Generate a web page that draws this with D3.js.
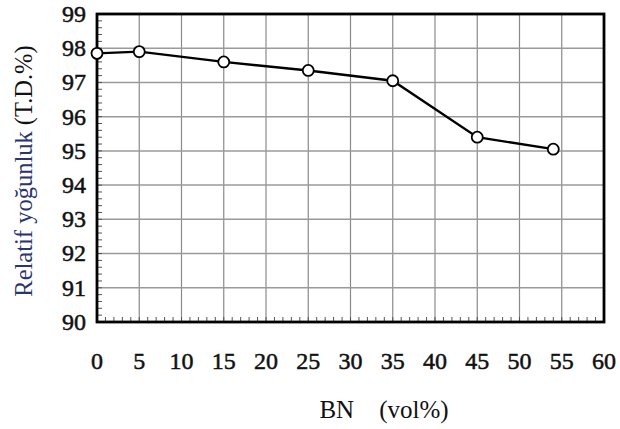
<!DOCTYPE html>
<html><head><meta charset="utf-8">
<script src="https://cdn.jsdelivr.net/npm/d3@7"></script>
<style>body{margin:0;background:#fff}svg{display:block}text{font-family:"Liberation Serif","Times New Roman",serif}</style>
</head><body>
<svg id="c" width="620" height="429"></svg>
<script>
const bnVol = [0, 5, 15, 25, 35, 45, 54];
const density = [97.85, 97.9, 97.6, 97.35, 97.05, 95.4, 95.05];
const xTicks = [0,5,10,15,20,25,30,35,40,45,50,55,60];
const yTicks = [90,91,92,93,94,95,96,97,98,99];

const svg = d3.select("#c");
const L=97, R=604, T=14, B=322;
const x = d3.scaleLinear().domain([0,60]).range([L,R]);
const y = d3.scaleLinear().domain([90,99]).range([B,T]);

// grid
svg.append("g").selectAll("line").data(xTicks.slice(1,-1)).join("line")
  .attr("x1",d=>x(d)).attr("x2",d=>x(d)).attr("y1",T).attr("y2",B)
  .attr("stroke","#8a8a8a").attr("stroke-width",1.2);
svg.append("g").selectAll("line").data(yTicks.slice(1,-1)).join("line")
  .attr("y1",d=>y(d)).attr("y2",d=>y(d)).attr("x1",L).attr("x2",R)
  .attr("stroke","#9a9a9a").attr("stroke-width",1.5);

// minor ticks
const yMinor = d3.range(90,99.001,0.2);
svg.append("g").selectAll("line").data(yMinor).join("line")
  .attr("x1",L).attr("x2",L+5).attr("y1",d=>y(d)).attr("y2",d=>y(d))
  .attr("stroke","#555").attr("stroke-width",1);
const xMinor = d3.range(0,60.001,1);
svg.append("g").selectAll("line").data(xMinor).join("line")
  .attr("x1",d=>x(d)).attr("x2",d=>x(d)).attr("y1",B).attr("y2",B-5)
  .attr("stroke","#555").attr("stroke-width",1);

// frame
svg.append("rect").attr("x",L).attr("y",T).attr("width",R-L).attr("height",B-T)
  .attr("fill","none").attr("stroke","#000").attr("stroke-width",2.8);

// tick labels
svg.append("g").selectAll("text").data(yTicks).join("text")
  .attr("x",L-11).attr("y",d=>y(d)).attr("dy","0.33em").attr("text-anchor","end")
  .attr("font-size",24).attr("fill","#111")
  .attr("stroke","#111").attr("stroke-width",0.5)
  .text(d=>d);
svg.append("g").selectAll("text").data(xTicks).join("text")
  .attr("x",d=>x(d)).attr("y",369).attr("text-anchor","middle")
  .attr("font-size",24).attr("fill","#111")
  .attr("stroke","#111").attr("stroke-width",0.5)
  .text(d=>d);

// axis titles
const yt = svg.append("text").attr("transform","translate(32,171) rotate(-90)")
  .attr("text-anchor","middle").attr("font-size",24.5).attr("fill","#111");
yt.append("tspan").attr("fill","#2a3570").text("Relatif yoğunluk");
yt.append("tspan").text(" (T.D.%)");
svg.append("text").attr("x",384).attr("y",418).attr("text-anchor","middle")
  .attr("font-size",25).attr("fill","#111").attr("xml:space","preserve")
  .text("BN    (vol%)");

// line
const pts = bnVol.map((v,i)=>[v,density[i]]);
svg.append("path").datum(pts)
  .attr("d",d3.line().x(d=>x(d[0])).y(d=>y(d[1])))
  .attr("fill","none").attr("stroke","#000").attr("stroke-width",2.4);
svg.append("g").selectAll("circle").data(pts).join("circle")
  .attr("cx",d=>x(d[0])).attr("cy",d=>y(d[1])).attr("r",5.5)
  .attr("fill","#fff").attr("stroke","#000").attr("stroke-width",1.8);
</script>
</body></html>
